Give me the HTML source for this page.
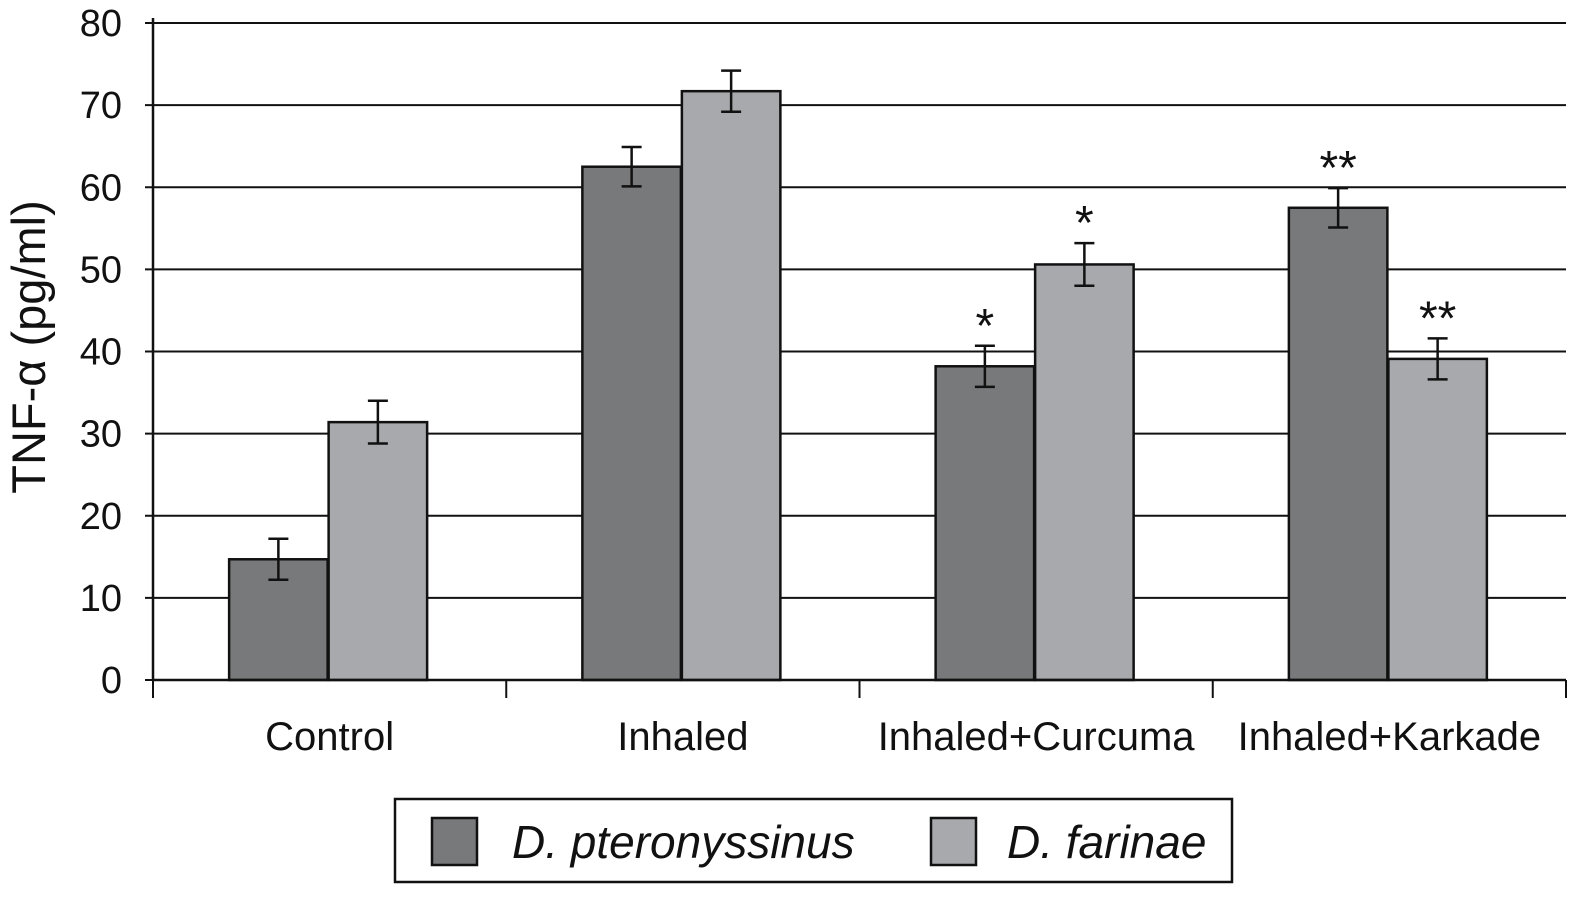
<!DOCTYPE html>
<html><head><meta charset="utf-8"><style>
body{margin:0;background:#fff}
svg text{font-family:"Liberation Sans",sans-serif;fill:#111}
</style></head><body>
<svg id="c" width="1584" height="893" viewBox="0 0 1584 893"></svg>
<script>
const categories=["Control","Inhaled","Inhaled+Curcuma","Inhaled+Karkade"];
const dpValues=[14.7,62.5,38.2,57.5];
const dfValues=[31.4,71.7,50.6,39.1];
const dpErrors=[2.5,2.4,2.5,2.4];
const dfErrors=[2.6,2.5,2.6,2.5];
const dpMarks=["","","*","**"];
const dfMarks=["","","*","**"];
const yTicks=[0,10,20,30,40,50,60,70,80];

const NS="http://www.w3.org/2000/svg";
const svg=document.getElementById("c");
function mk(t,a,txt){const e=document.createElementNS(NS,t);for(const k in a)e.setAttribute(k,a[k]);if(txt!==undefined)e.textContent=txt;svg.appendChild(e);return e;}
const x0=153,x1=1566,yBase=680,yTop=23;
const y=v=>yBase-(yBase-yTop)*v/80;
const catW=(x1-x0)/categories.length;
const barW=98.5;

yTicks.forEach(t=>{
  if(t>0){const g=mk("line",{x1:x0,x2:x1,y1:y(t),y2:y(t),stroke:"#111","stroke-width":2});
  
  }
  const tk=mk("line",{x1:x0-8,x2:x0,y1:y(t),y2:y(t),stroke:"#111","stroke-width":2});
  
  
  const l=mk("text",{x:122,y:y(t)+13,"text-anchor":"end","font-size":38},t);
  
  
});
function bar(cx,v,e,fill,mark,name){
  const r=mk("rect",{x:cx,y:y(v),width:barW,height:yBase-y(v),fill:fill,stroke:"#111","stroke-width":2.5});
  
  
  const m=cx+barW/2;
  const eb=mk("path",{d:`M${m},${y(v+e)}V${y(v-e)}M${m-10},${y(v+e)}H${m+10}M${m-10},${y(v-e)}H${m+10}`,stroke:"#111","stroke-width":2.5,fill:"none"});
  
  
  if(mark){const s=mk("text",{x:m,y:y(v+e)-4,"text-anchor":"middle","font-size":48},mark);
    
    }
}
categories.forEach((c,i)=>{
  const cs=x0+catW*i, mid=cs+catW/2;
  bar(mid-barW-2,dpValues[i],dpErrors[i],"#78797b",dpMarks[i],"bar-d-pteronyssinus");
  bar(mid-1,dfValues[i],dfErrors[i],"#a7a9ac",dfMarks[i],"bar-d-farinae");
  const l=mk("text",{x:mid,y:750,"text-anchor":"middle","font-size":40},c);
  
  
});
for(let i=0;i<=categories.length;i++){
  const t=mk("line",{x1:x0+catW*i,x2:x0+catW*i,y1:yBase,y2:698,stroke:"#111","stroke-width":2});
  
  
}
const ax=mk("line",{x1:x0,x2:x1,y1:yBase,y2:yBase,stroke:"#111","stroke-width":2.5});


const ay=mk("line",{x1:x0,x2:x0,y1:yTop-5,y2:yBase,stroke:"#111","stroke-width":2.5});


const yt=mk("text",{x:0,y:0,"text-anchor":"middle","font-size":47,transform:"translate(45,347) rotate(-90)"},"TNF-α (pg/ml)");


const lg=mk("rect",{x:395,y:799,width:837,height:83,fill:"#fff",stroke:"#111","stroke-width":2.5});


const s1=mk("rect",{x:432,y:818,width:45,height:47,fill:"#78797b",stroke:"#111","stroke-width":2.5});


const t1=mk("text",{x:512,y:858,"font-size":46,"font-style":"italic"},"D. pteronyssinus");


const s2=mk("rect",{x:931,y:818,width:45,height:47,fill:"#a7a9ac",stroke:"#111","stroke-width":2.5});


const t2=mk("text",{x:1007,y:858,"font-size":46,"font-style":"italic"},"D. farinae");


</script>
</body></html>
